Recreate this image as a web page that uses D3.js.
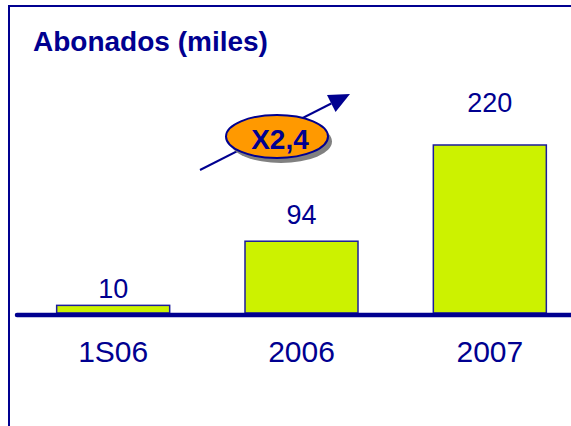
<!DOCTYPE html>
<html>
<head>
<meta charset="utf-8">
<script src="https://cdn.jsdelivr.net/npm/d3@7"></script>
<style>
  html, body { margin: 0; padding: 0; background: #fff; overflow: hidden; }
  svg { display: block; font-family: "Liberation Sans", Arial, sans-serif; }
</style>
</head>
<body>
<div id="chart"></div>
<script>
const categories = ["1S06", "2006", "2007"];
const values = [10, 94, 220];
const titleText = "Abonados (miles)";
const growthText = "X2,4";

const width = 571, height = 426;
const navy = "#000090";

const svg = d3.select("#chart")
  .append("svg")
    .attr("width", width)
    .attr("height", height);

// frame: only top and left edges fall inside the picture
svg.append("line")
  .attr("x1", 9).attr("x2", 9)
  .attr("y1", 5).attr("y2", height)
  .attr("stroke", navy)
  .attr("stroke-width", 2);

svg.append("line")
  .attr("x1", 8).attr("x2", width)
  .attr("y1", 6).attr("y2", 6)
  .attr("stroke", navy)
  .attr("stroke-width", 2);

svg.append("text")
  .attr("x", 33)
  .attr("y", 51)
  .attr("fill", navy)
  .style("font-size", "28px")
  .style("font-weight", "bold")
  .text(titleText);

const x = d3.scaleBand()
  .domain(categories)
  .range([19, 584])
  .paddingInner(0.4)
  .paddingOuter(0.2);

const y = d3.scaleLinear()
  .domain([0, 220])
  .range([313, 145]);

// value labels do not sit at a fixed gap above the bars in the original
const yLabel = d3.scaleLinear()
  .domain([0, 220])
  .range([307, 111.7]);

svg.selectAll(".bar")
  .data(values)
  .join("rect")
    .attr("class", "bar")
    .attr("x", (d, i) => x(categories[i]))
    .attr("y", d => y(d))
    .attr("width", x.bandwidth())
    .attr("height", d => y(0) - y(d))
    .attr("fill", "#ccf200")
    .attr("stroke", "#1c1c9c")
    .attr("stroke-width", 1.5);

svg.selectAll(".val")
  .data(values)
  .join("text")
    .attr("class", "val")
    .attr("x", (d, i) => x(categories[i]) + x.bandwidth() / 2)
    .attr("y", d => yLabel(d))
    .attr("text-anchor", "middle")
    .attr("fill", navy)
    .style("font-size", "27px")
    .text(d => d);

// x axis: thick baseline, category names below
const axis = svg.append("g")
  .attr("transform", `translate(0,${y(0) + 2})`)
  .call(d3.axisBottom(x).tickSize(0).tickPadding(0));

axis.select(".domain").remove();

axis.append("line")
  .attr("x1", 17).attr("x2", width)
  .attr("stroke", navy)
  .attr("stroke-width", 4.5)
  .attr("stroke-linecap", "round");

axis.selectAll(".tick text")
  .attr("dy", null)
  .attr("y", 46.5)
  .attr("fill", navy)
  .style("font-size", "30px")
  .style("font-family", "\"Liberation Sans\", Arial, sans-serif");

// growth annotation: arrow with orange badge
const arrowFrom = [200, 170], arrowTip = [350, 94];
const ang = Math.atan2(arrowTip[1] - arrowFrom[1], arrowTip[0] - arrowFrom[0]);
const headLen = 21, headHalf = 9.5;
const base = [arrowTip[0] - headLen * Math.cos(ang), arrowTip[1] - headLen * Math.sin(ang)];
const nx = -Math.sin(ang), ny = Math.cos(ang);

svg.append("path")
  .attr("d", d3.line()([arrowFrom, base]))
  .attr("stroke", navy)
  .attr("stroke-width", 2)
  .attr("fill", "none");

svg.append("path")
  .attr("d", d3.line()([
    arrowTip,
    [base[0] + nx * headHalf, base[1] + ny * headHalf],
    [base[0] - nx * headHalf, base[1] - ny * headHalf]
  ]) + "Z")
  .attr("fill", navy);

const badge = {cx: 277, cy: 136.5, rx: 51, ry: 21.5};

svg.append("ellipse")
  .attr("cx", badge.cx + 4)
  .attr("cy", badge.cy + 5)
  .attr("rx", badge.rx)
  .attr("ry", badge.ry)
  .attr("fill", "#808080");

svg.append("ellipse")
  .attr("cx", badge.cx)
  .attr("cy", badge.cy)
  .attr("rx", badge.rx)
  .attr("ry", badge.ry)
  .attr("fill", "#ff9900")
  .attr("stroke", navy)
  .attr("stroke-width", 2);

svg.append("text")
  .attr("x", badge.cx + 3)
  .attr("y", 148.5)
  .attr("text-anchor", "middle")
  .attr("fill", navy)
  .style("font-size", "28px")
  .style("font-weight", "bold")
  .text(growthText);
</script>
</body>
</html>
